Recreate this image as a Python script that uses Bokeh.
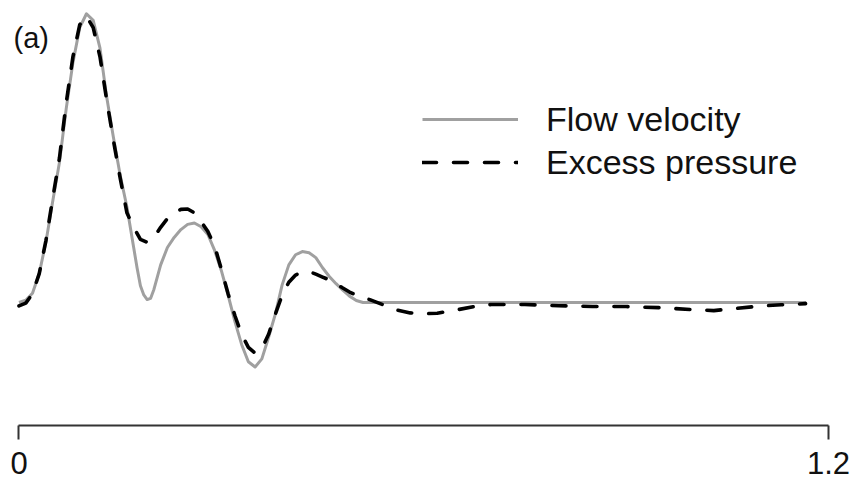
from bokeh.plotting import figure
from bokeh.models import Range1d, FixedTicker, Legend, LegendItem, Label
from bokeh.embed import file_html
from bokeh.resources import INLINE

# ---- data (time in s, values normalised to the flow peak) ----
t_flow = [0.00, 0.01, 0.02, 0.03, 0.04, 0.05, 0.06, 0.07, 0.08, 0.09, 0.10, 0.11,
          0.12, 0.13, 0.14, 0.15, 0.16, 0.17, 0.175, 0.18, 0.185, 0.19, 0.195, 0.20,
          0.21, 0.22, 0.23, 0.24, 0.25, 0.26, 0.27, 0.28, 0.29, 0.30, 0.31, 0.32,
          0.33, 0.34, 0.35, 0.36, 0.37, 0.38, 0.39, 0.40, 0.41, 0.42, 0.43, 0.44,
          0.45, 0.46, 0.47, 0.48, 0.49, 0.50, 0.51, 0.60, 0.80, 1.00, 1.167]
flow_velocity = [0.000, 0.008, 0.032, 0.100, 0.210, 0.350, 0.485, 0.670, 0.830, 0.950, 0.998, 0.975,
                 0.880, 0.710, 0.570, 0.440, 0.330, 0.190, 0.120, 0.058, 0.026, 0.010, 0.014, 0.045,
                 0.130, 0.190, 0.225, 0.252, 0.270, 0.275, 0.262, 0.235, 0.180, 0.110, 0.025, -0.065,
                 -0.145, -0.205, -0.223, -0.195, -0.120, -0.040, 0.060, 0.130, 0.165, 0.176, 0.172, 0.155,
                 0.120, 0.090, 0.065, 0.043, 0.022, 0.007, 0.000, 0.000, 0.000, 0.000, 0.000]

t_pressure = [0.00, 0.01, 0.02, 0.03, 0.04, 0.05, 0.06, 0.07, 0.08, 0.09, 0.10, 0.11,
              0.12, 0.13, 0.14, 0.15, 0.16, 0.17, 0.18, 0.19, 0.20, 0.21, 0.22, 0.23,
              0.24, 0.25, 0.26, 0.27, 0.28, 0.29, 0.30, 0.31, 0.32, 0.33, 0.34, 0.35,
              0.36, 0.37, 0.38, 0.39, 0.40, 0.41, 0.42, 0.43, 0.44, 0.45, 0.46, 0.47,
              0.48, 0.49, 0.50, 0.52, 0.54, 0.56, 0.58, 0.60, 0.62, 0.65, 0.68, 0.70,
              0.75, 0.80, 0.85, 0.90, 0.95, 1.00, 1.03, 1.06, 1.10, 1.13, 1.166]
excess_pressure = [-0.012, -0.002, 0.030, 0.100, 0.215, 0.360, 0.500, 0.690, 0.850, 0.960, 0.990, 0.950,
                   0.850, 0.700, 0.560, 0.430, 0.310, 0.260, 0.218, 0.208, 0.225, 0.260, 0.290, 0.310,
                   0.322, 0.323, 0.310, 0.280, 0.245, 0.195, 0.115, 0.030, -0.045, -0.110, -0.155, -0.175,
                   -0.160, -0.110, -0.040, 0.025, 0.070, 0.095, 0.106, 0.107, 0.098, 0.088, 0.078, 0.065,
                   0.050, 0.036, 0.025, 0.010, -0.008, -0.026, -0.036, -0.039, -0.037, -0.025, -0.012, -0.007,
                   -0.007, -0.011, -0.014, -0.014, -0.018, -0.025, -0.028, -0.021, -0.012, -0.008, -0.004]

x_ticks = [0, 1.2]
x_tick_labels = {0: "0", 1.2: "1.2"}
series_names = ["Flow velocity", "Excess pressure"]
panel_tag = "(a)"

FONT = "Liberation Sans"

p = figure(frame_width=830, frame_height=425, output_backend="svg", toolbar_location=None,
           x_range=Range1d(-0.0126, 1.2178), y_range=Range1d(-0.4252, 1.0439),
           min_border_left=10, min_border_right=10, min_border_top=0, min_border_bottom=58)

p.xgrid.visible = False
p.ygrid.visible = False
p.yaxis.visible = False
p.outline_line_color = None
p.background_fill_color = "white"

ax = p.xaxis[0]
ax.bounds = (0, 1.2)
ax.ticker = FixedTicker(ticks=x_ticks)
ax.major_label_overrides = x_tick_labels
ax.minor_tick_line_color = None
ax.major_tick_in = 0
ax.major_tick_out = 14
ax.major_tick_line_width = 2
ax.major_tick_line_color = "#333333"
ax.axis_line_width = 2
ax.axis_line_color = "#333333"
ax.major_label_standoff = 12
ax.major_label_text_font = FONT
ax.major_label_text_font_size = "31px"
ax.major_label_text_color = "#111111"

gray = "#a0a0a0"
r_flow = p.line(t_flow, flow_velocity, line_color=gray, line_width=3, line_join="round")
r_pres = p.line(t_pressure, excess_pressure, line_color="black", line_width=3.6,
                line_dash="14 17", line_cap="round", line_join="round")

legend = Legend(items=[LegendItem(label=series_names[0], renderers=[r_flow]),
                       LegendItem(label=series_names[1], renderers=[r_pres])],
                location=(412, 243), orientation="vertical",
                glyph_width=96, glyph_height=40, label_height=40, spacing=3,
                label_standoff=28, padding=0, margin=0,
                border_line_alpha=0, background_fill_alpha=0,
                label_text_font=FONT, label_text_font_size="34px",
                label_text_color="#111111")
p.add_layout(legend, "center")

tag = Label(x=-0.0082, y=0.916, text=panel_tag, text_font=FONT, text_font_size="29px",
            text_color="#111111", text_align="left", text_baseline="alphabetic")
p.add_layout(tag)

open("out.html", "w").write(file_html(p, INLINE))
